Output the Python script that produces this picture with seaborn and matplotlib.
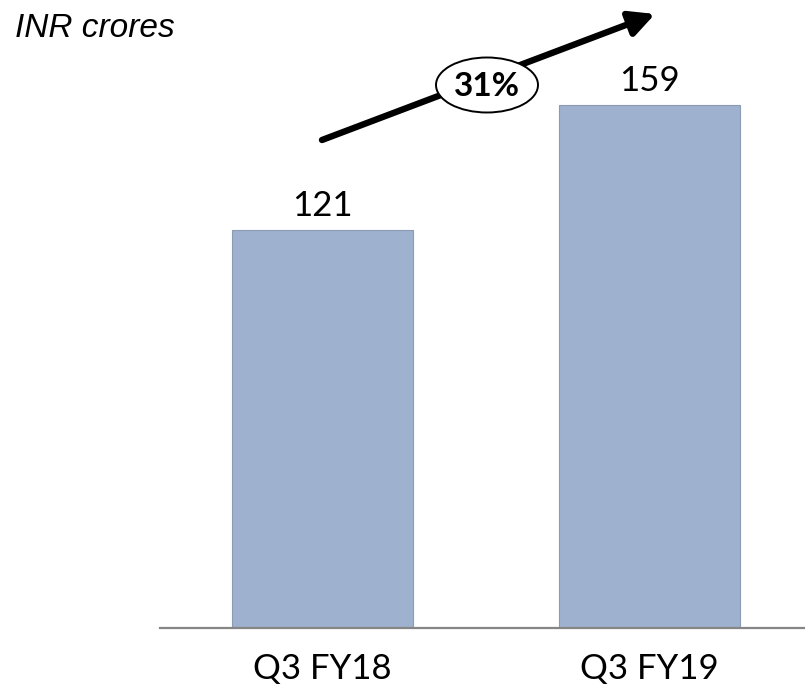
import matplotlib
matplotlib.use("Agg")
import matplotlib.pyplot as plt
from matplotlib.patches import Ellipse
import seaborn as sns
import pandas as pd

# Quarterly figures (INR crores)
quarters = ["Q3 FY18", "Q3 FY19"]
values = [121, 159]
growth_label = "31%"
unit_label = "INR crores"

sns.set_theme(style="white")
plt.rcParams["font.family"] = ["Lato", "DejaVu Sans"]

W, H = 805, 684
fig = plt.figure(figsize=(W / 100, H / 100), dpi=100)
ax_left, ax_bottom = 160 / W, 1 - 628 / H
ax = fig.add_axes([ax_left, ax_bottom, 1 - ax_left, 592 / H])

df = pd.DataFrame({"quarter": quarters, "value": values})
sns.barplot(data=df, x="quarter", y="value", color="#9EB1CF",
            saturation=1, width=0.553, edgecolor="#8C9BB4", linewidth=0.8, ax=ax)

ax.set_ylim(0, 180)
ax.set_xlim(-0.497, 1.4755)
ax.set_xlabel("")
ax.set_ylabel("")
ax.set_yticks([])
for side in ("left", "right", "top"):
    ax.spines[side].set_visible(False)
ax.spines["bottom"].set_color("#868686")
ax.spines["bottom"].set_linewidth(1.6)
ax.tick_params(axis="x", length=0, pad=18, labelsize=25, labelcolor="black")

# value labels above each bar
for i, v in enumerate(values):
    ax.annotate(str(v), xy=(i, v), xytext=(0, 10), textcoords="offset points",
                ha="center", va="baseline", fontsize=25, color="black")

# growth arrow with the percentage badge
def fx(px):
    return px / W

def fy(py):
    return 1 - py / H

ax.annotate("", xy=(fx(655), fy(14)), xytext=(fx(322), fy(140)),
            xycoords=fig.transFigure, textcoords=fig.transFigure,
            arrowprops=dict(arrowstyle="-|>,head_length=0.75,head_width=0.38",
                            mutation_scale=20, lw=4.6, color="black",
                            shrinkA=0, shrinkB=0), annotation_clip=False)
badge = Ellipse((fx(487), fy(85)), 102 / W, 55 / H, transform=fig.transFigure,
                facecolor="white", edgecolor="black", lw=1.4, zorder=10, clip_on=False)
fig.patches.append(badge)
fig.text(fx(487), fy(86), growth_label, ha="center", va="center",
         fontsize=24, fontweight="bold", color="black", zorder=11)

fig.text(fx(15), fy(37), unit_label, ha="left", va="baseline", fontsize=24,
         style="italic", family=["Liberation Sans", "DejaVu Sans"], color="black")

fig.savefig("out.png", dpi=100)
